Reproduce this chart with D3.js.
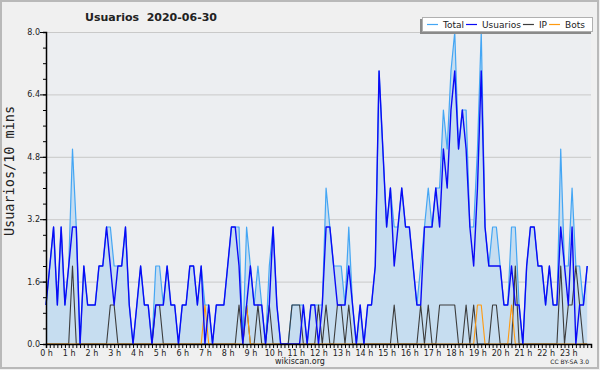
<!DOCTYPE html>
<html>
<head>
<meta charset="utf-8">
<script src="https://cdn.jsdelivr.net/npm/d3@7/dist/d3.min.js"></script>
<style>
  body { margin: 0; background: #f0f0f0; }
  svg text { font-family: 'DejaVu Sans', sans-serif; fill: #222; }
</style>
</head>
<body>
<div id="chart"></div>
<script>
const title = 'Usuarios  2020-06-30';
const yLabel = 'Usuarios/10 mins';
const hourLabels = d3.range(0, 24).map(h => `${h} h`);
const yTicks = [0, 1.6, 3.2, 4.8, 6.4, 8.0];
const seriesNames = ['Total', 'Usuarios', 'IP', 'Bots'];

// one value per 10 minutes, 144 per day
const total = [
  1,2,3,1,3,1,2,5,3,0, 2,1,1,1,2,2,3,3,2,2, 2,3,1,0,1,2,1,1,0,2,
  2,1,2,1,1,0,1,1,2,2, 1,2,1,1,0,1,1,1,2,3, 3,3,0,3,2,1,2,1,0,2,
  3,1,0,0,0,1,1,1,1,0, 1,1,1,1,4,3,2,2,2,1, 3,1,0,1,0,1,1,2,7,5,
  3,4,3,3,4,3,3,2,1,2, 3,4,3,4,4,6,5,7,8,5, 6,6,3,3,5,8,3,2,3,3,
  2,1,1,3,3,1,0,2,3,3, 2,2,1,2,1,1,5,2,2,4, 2,2,1,2
];
const usuarios = [
  1,2,3,1,3,1,2,3,3,0, 2,1,1,1,2,2,3,2,1,2, 2,3,1,0,1,2,1,1,0,1,
  1,1,2,1,1,0,1,1,2,2, 1,2,0,1,0,1,1,1,2,3, 3,2,0,1,2,1,1,1,0,1,
  3,1,0,0,0,0,0,0,1,0, 1,1,0,1,3,3,2,1,1,1, 2,1,0,1,0,1,1,2,7,5,
  3,4,2,3,4,3,3,2,1,1, 3,3,3,4,3,5,4,6,7,5, 6,5,3,2,4,7,3,2,2,2,
  2,1,1,2,1,1,0,2,3,3, 2,2,1,2,1,1,3,2,1,3, 0,1,1,2
];
const ip = [
  0,0,0,0,0,0,0,2,0,0, 0,0,0,0,0,0,0,1,1,0, 0,0,0,0,0,0,0,0,0,1,
  1,0,0,0,0,0,0,0,0,0, 0,0,0,0,0,0,0,0,0,0, 0,1,0,1,0,0,1,0,0,1,
  0,0,0,0,0,1,1,1,0,0, 0,0,1,0,1,0,0,1,1,0, 1,0,0,0,0,0,0,0,0,0,
  0,0,1,0,0,0,0,0,0,1, 0,1,0,0,1,1,1,1,1,0, 0,1,0,1,0,0,0,0,1,1,
  0,0,0,0,2,0,0,0,0,0, 0,0,0,0,0,0,2,0,1,1, 2,1,0,0
];
const bots = [
  0,0,0,0,0,0,0,0,0,0, 0,0,0,0,0,0,0,0,0,0, 0,0,0,0,0,0,0,0,0,0,
  0,0,0,0,0,0,0,0,0,0, 0,0,1,0,0,0,0,0,0,0, 0,0,0,1,0,0,0,0,0,0,
  0,0,0,0,0,0,0,0,0,0, 0,0,0,0,0,0,0,0,0,0, 0,0,0,0,0,0,0,0,0,0,
  0,0,0,0,0,0,0,0,0,0, 0,0,0,0,0,0,0,0,0,0, 0,0,0,0,1,1,0,0,0,0,
  0,0,0,1,0,0,0,0,0,0, 0,0,0,0,0,0,0,0,0,0, 0,0,0,0
];

const colors = { Total: '#44a6f4', Usuarios: '#0a0af5', IP: '#3c3c3c', Bots: '#ff9a10' };

const render = root => {
  const width = 600;
  const height = 370;
  const plot = { left: 46, right: 591, top: 32, bottom: 344 };

  const svg = d3.select(root).append('svg')
    .attr('width', width)
    .attr('height', height);

  svg.append('rect')
    .attr('x', 1).attr('y', 1)
    .attr('width', width - 3).attr('height', height - 3)
    .attr('fill', '#f0f0f0')
    .attr('stroke', '#b9b9b9')
    .attr('stroke-width', 2);

  const x = d3.scaleLinear().domain([0, 144]).range([plot.left, plot.right]);
  const y = d3.scaleLinear().domain([0, 8]).range([plot.bottom, plot.top]);

  svg.append('rect')
    .attr('x', plot.left).attr('y', plot.top)
    .attr('width', plot.right - plot.left).attr('height', plot.bottom - plot.top)
    .attr('fill', '#eceef1');

  svg.append('g')
    .selectAll('line')
    .data(yTicks.filter(d => d > 0))
    .enter()
    .append('line')
    .attr('x1', plot.left).attr('x2', plot.right)
    .attr('y1', d => y(d) + 0.5).attr('y2', d => y(d) + 0.5)
    .attr('stroke', '#c9c9c9');

  const area = d3.area()
    .x((d, i) => x(i))
    .y0(y(0))
    .y1(d => y(d));

  const line = d3.line()
    .x((d, i) => x(i))
    .y(d => y(d));

  svg.append('path')
    .datum(total)
    .attr('d', area)
    .attr('fill', '#c6ddf0');

  const drawLine = (values, name, w) => {
    svg.append('path')
      .datum(values)
      .attr('d', line)
      .attr('fill', 'none')
      .attr('stroke', colors[name])
      .attr('stroke-width', w)
      .attr('stroke-linejoin', 'round');
  };

  drawLine(total, 'Total', 1.2);
  drawLine(ip, 'IP', 1.1);
  drawLine(bots, 'Bots', 1.1);
  drawLine(usuarios, 'Usuarios', 1.4);

  // axes
  const xAxis = d3.axisBottom(x)
    .tickValues(d3.range(0, 145))
    .tickSize(4)
    .tickFormat(d => (d % 6 === 0 && d < 144) ? hourLabels[d / 6] : '');

  const gx = svg.append('g')
    .attr('transform', `translate(0,${plot.bottom})`)
    .call(xAxis);
  gx.select('.domain').attr('stroke', '#000').attr('stroke-width', 1.5);
  gx.selectAll('.tick line').attr('stroke', '#000');
  gx.selectAll('.tick text')
    .attr('y', 6)
    .attr('font-size', 8)
    .style('font-family', 'DejaVu Sans');

  const minor = d3.axisLeft(y)
    .tickValues(d3.range(0, 8.01, 0.4))
    .tickSize(3)
    .tickFormat('');
  const gyMinor = svg.append('g')
    .attr('transform', `translate(${plot.left},0)`)
    .call(minor);
  gyMinor.select('.domain').attr('stroke', '#000').attr('stroke-width', 1.5);
  gyMinor.selectAll('.tick line').attr('stroke', '#000');

  const major = d3.axisLeft(y)
    .tickValues(yTicks)
    .tickSize(6)
    .tickFormat(d3.format('.1f'));
  const gy = svg.append('g')
    .attr('transform', `translate(${plot.left},0)`)
    .call(major);
  gy.select('.domain').remove();
  gy.selectAll('.tick line').attr('stroke', '#000');
  gy.selectAll('.tick text')
    .attr('x', -6)
    .attr('font-size', 8)
    .style('font-family', 'DejaVu Sans');

  svg.append('text')
    .attr('x', 151).attr('y', 21)
    .attr('text-anchor', 'middle')
    .attr('font-size', 11)
    .attr('font-weight', 'bold')
    .style('white-space', 'pre')
    .text(title);

  svg.append('text')
    .attr('transform', 'translate(14,171) rotate(-90)')
    .attr('text-anchor', 'middle')
    .attr('font-size', 13.5)
    .style('font-family', 'DejaVu Sans Mono')
    .text(yLabel);

  svg.append('text')
    .attr('x', 300).attr('y', 364)
    .attr('text-anchor', 'middle')
    .attr('font-size', 8)
    .text('wikiscan.org');

  svg.append('text')
    .attr('x', 589).attr('y', 364)
    .attr('text-anchor', 'end')
    .attr('font-size', 6)
    .text('CC BY-SA 3.0');

  // legend
  const legend = svg.append('g');
  legend.append('rect')
    .attr('x', 420).attr('y', 19)
    .attr('width', 171).attr('height', 15)
    .attr('fill', '#8a8a8a');
  legend.append('rect')
    .attr('x', 422.5).attr('y', 17.5)
    .attr('width', 170).attr('height', 14)
    .attr('fill', '#fff')
    .attr('stroke', '#b0b0b0');

  let cx = 427;
  seriesNames.forEach(name => {
    legend.append('line')
      .attr('x1', cx).attr('x2', cx + 11)
      .attr('y1', 24.5).attr('y2', 24.5)
      .attr('stroke', colors[name])
      .attr('stroke-width', 1.2);
    const t = legend.append('text')
      .attr('x', cx + 16).attr('y', 28)
      .attr('font-size', 9)
      .text(name);
    cx += 16 + t.node().getComputedTextLength() + 2;
  });

  return svg;
};

render('#chart');
</script>
</body>
</html>
